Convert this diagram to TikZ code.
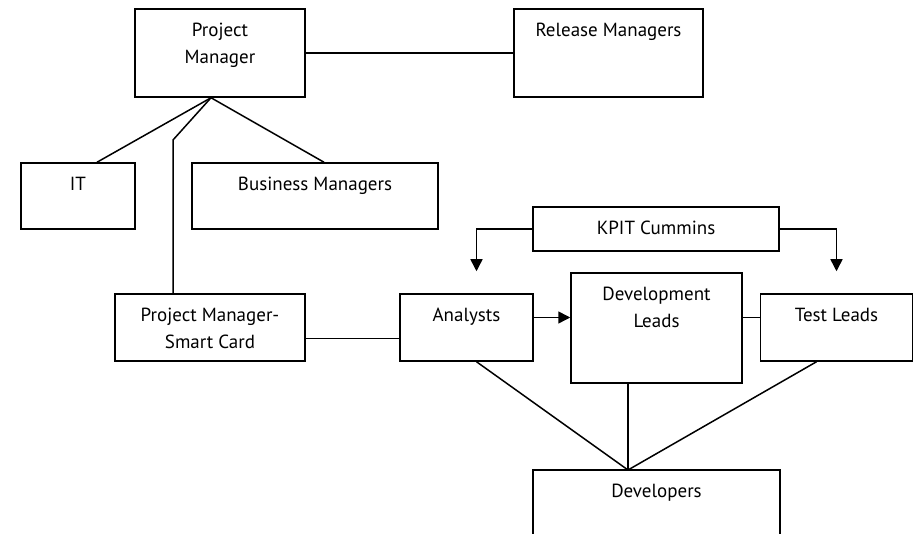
\documentclass[tikz,border=0pt]{standalone}
\usepackage{fontspec}
\setmainfont{PT Sans}
\usetikzlibrary{arrows.meta}

\tikzset{
  unit/.style={draw, line width=1.5pt, inner sep=0pt},
  txt/.style={anchor=north, align=center, inner sep=0pt, yshift=-15pt,
              font=\fontsize{19}{27}\selectfont},
  link/.style={line width=1.5pt},
  tip/.style={link, -{Triangle[length=12pt,width=12pt]}}
}

\begin{document}
\begin{tikzpicture}[x=1pt,y=-1pt]
        \clip (0,0) rectangle (919,534);

        % upper part of the chart
        \node[unit, minimum width=170, minimum height=88,
              label={[txt]north:{Project\\Manager}}] (pm) at (220,53) {};
        \node[unit, minimum width=189, minimum height=88,
              label={[txt]north:{Release Managers}}] (rel) at (608.5,53) {};
        \node[unit, minimum width=114, minimum height=66,
              label={[txt]north:{IT}}] (it) at (78,196) {};
        \node[unit, minimum width=246, minimum height=66,
              label={[txt]north:{Business Managers}}] (bm) at (315,196) {};
        \node[unit, minimum width=190, minimum height=67,
              label={[txt]north:{Project Manager-\\Smart Card}}] (pmsc) at (210,327.5) {};

        % the team under the smart card manager
        \node[unit, minimum width=246, minimum height=44,
              label={[txt]north:{KPIT Cummins}}] (kp) at (656,229) {};
        \node[unit, minimum width=133, minimum height=67,
              label={[txt]north:{Analysts}}] (ana) at (466.5,327.5) {};
        \node[unit, minimum width=171, minimum height=110,
              label={[txt]north:{Development\\Leads}}] (dl) at (656.5,328) {};
        \node[unit, minimum width=152, minimum height=67,
              label={[txt]north:{Test Leads}}] (tl) at (836.5,327.5) {};
        % runs past the lower edge
        \node[unit, minimum width=247, minimum height=90,
              label={[txt]north:{Developers}}] (dev) at (656.5,515) {};

        % where the lines meet
        \coordinate (foot) at ([xshift=-9pt]pm.south);
        \coordinate (bend) at (173,140);
        \coordinate (hub)  at (628,470);

        % lines from the project manager
        \draw[link] (pm.east) -- (rel.west);
        \draw[link] (foot) -- ([xshift=19pt]it.north);
        \draw[link] (foot) -- ([xshift=9pt]bm.north);
        \draw[link] (foot) -- (bend) -- (bend |- pmsc.north);
        \draw[link] ([yshift=-11pt]pmsc.east) -- ([yshift=-11pt]ana.west);

        % arrows from KPIT Cummins
        \draw[tip] (kp.west) -| ([xshift=10pt,yshift=22pt]ana.north);
        \draw[tip] (kp.east) -| ([yshift=22pt]tl.north);
        \draw[tip] ([yshift=10pt]ana.east) -- ([yshift=10pt]ana.east -| dl.west);
        \draw[link] ([yshift=10pt]tl.west -| dl.east) -- ([yshift=10pt]tl.west);

        % everyone down to the developers
        \draw[link] ([xshift=10pt]ana.south) -- (hub);
        \draw[link] (dl.south -| hub) -- (hub);
        \draw[link] ([xshift=-20pt]tl.south) -- (hub);
\end{tikzpicture}
\end{document}
